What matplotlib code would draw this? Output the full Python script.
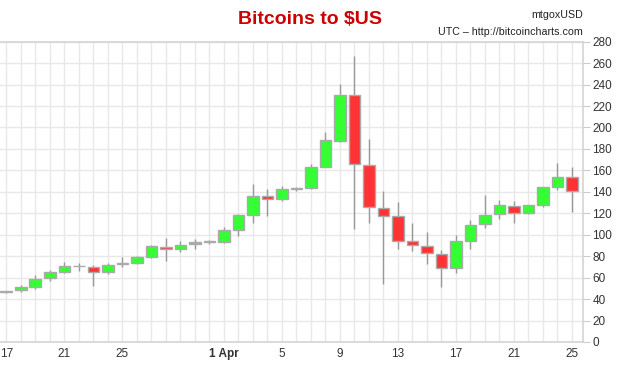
import numpy as np
import pandas as pd
import matplotlib
matplotlib.use("Agg")
from matplotlib import pyplot as plt

plt.rcParams['font.family'] = ['Liberation Sans', 'DejaVu Sans']

# daily candles, mtgoxUSD, 17 Mar - 25 Apr 2013
dates = pd.date_range("2013-03-17", "2013-04-25", freq="D")
opens = [47.0, 48.3, 51.7, 59.2, 65.0, 71.0, 70.0, 65.0, 72.3, 74.1,
         78.8, 88.4, 86.3, 91.0, 93.2, 93.4, 104.0, 118.0, 135.8, 133.0,
         142.3, 143.2, 163.0, 187.7, 230.0, 165.3, 125.1, 117.1, 93.8, 89.7,
         82.2, 68.8, 94.0, 109.6, 119.3, 127.0, 120.2, 127.7, 144.2, 154.1]
highs = [48.0, 53.6, 62.0, 67.0, 75.0, 74.0, 71.6, 74.0, 78.8, 80.0,
         90.6, 96.5, 94.0, 96.0, 95.0, 106.8, 119.0, 147.3, 142.6, 145.4,
         144.5, 166.0, 196.0, 240.7, 266.8, 189.3, 140.7, 130.2, 110.9, 102.4,
         85.6, 99.6, 113.4, 136.7, 132.3, 131.4, 127.6, 144.8, 167.2, 163.1]
lows = [46.0, 47.0, 49.5, 57.0, 64.0, 66.0, 52.0, 63.0, 69.5, 73.0,
        78.5, 75.4, 83.8, 86.9, 91.0, 92.5, 99.0, 110.6, 117.4, 131.0,
        140.5, 143.0, 163.0, 186.8, 105.0, 110.6, 54.5, 86.3, 84.4, 72.3,
        51.0, 63.9, 86.3, 105.9, 114.9, 110.6, 119.0, 125.5, 141.7, 120.8]
closes = [47.3, 51.4, 58.8, 64.8, 71.3, 70.6, 65.0, 72.0, 73.8, 78.8,
          89.1, 86.3, 90.6, 92.8, 93.7, 104.3, 118.0, 136.0, 133.3, 142.3,
          143.5, 162.9, 188.0, 230.4, 166.0, 125.8, 117.4, 93.8, 90.0, 82.8,
          68.8, 94.0, 109.3, 118.6, 127.4, 120.2, 127.4, 144.2, 154.1, 140.7]

tick_days = ["2013-03-17", "2013-03-21", "2013-03-25", "2013-04-01", "2013-04-05",
             "2013-04-09", "2013-04-13", "2013-04-17", "2013-04-21", "2013-04-25"]
tick_labels = ["17", "21", "25", "1 Apr", "5", "9", "13", "17", "21", "25"]

x = np.arange(len(dates))
o = np.array(opens)
c = np.array(closes)
colors = np.where(c >= o, "#33ff33", "#ff3333")

fig = plt.figure(figsize=(6.28, 3.66), dpi=100)
ax = fig.add_axes([0.0, 0.0656, 0.928, 0.8205])

ax.vlines(x, lows, highs, color="#999999", linewidth=1, zorder=2)
ax.bar(x, np.abs(c - o), bottom=np.minimum(o, c), width=0.8, color=colors,
       edgecolor="#aaaaaa", linewidth=1, zorder=3)

ax.set_xlim(-0.434, 39.75)
ax.set_ylim(0, 280)

ax.set_xticks(x, minor=True)
tick_pos = [dates.get_loc(pd.Timestamp(d)) for d in tick_days]
ax.set_xticks(tick_pos)
ax.set_xticklabels(tick_labels)
for lab in ax.get_xticklabels():
    if lab.get_text() == "1 Apr":
        lab.set_fontweight("bold")
ax.set_yticks(np.arange(0, 281, 20))

ax.grid(True, which="both", axis="x", color="#e8e8e8", linewidth=1, zorder=0)
ax.grid(True, which="major", axis="y", color="#e8e8e8", linewidth=1, zorder=0)
ax.set_axisbelow(True)

ax.yaxis.tick_right()
ax.tick_params(axis="y", which="both", length=5, color="#cccccc", labelsize=8.5,
               labelcolor="#333333", pad=2, left=False)
ax.tick_params(axis="x", which="both", length=0, labelsize=8.5,
               labelcolor="#333333", pad=4)

ax.spines["left"].set_visible(False)
for side in ["right", "bottom", "top"]:
    ax.spines[side].set_color("#d4d4d4")
    ax.spines[side].set_linewidth(1.2)

fig.text(310 / 628, 1 - 20 / 366, "Bitcoins to $US", color="#cc0000",
         fontsize=14, fontweight="bold", ha="center", va="center")
fig.text(583 / 628, 1 - 15 / 366, "mtgoxUSD", color="#222222",
         fontsize=7.7, ha="right", va="center")
fig.text(583 / 628, 1 - 32 / 366, "UTC \u2013 http://bitcoincharts.com", color="#222222",
         fontsize=7.7, ha="right", va="center")

fig.savefig("out.png", dpi=100)
